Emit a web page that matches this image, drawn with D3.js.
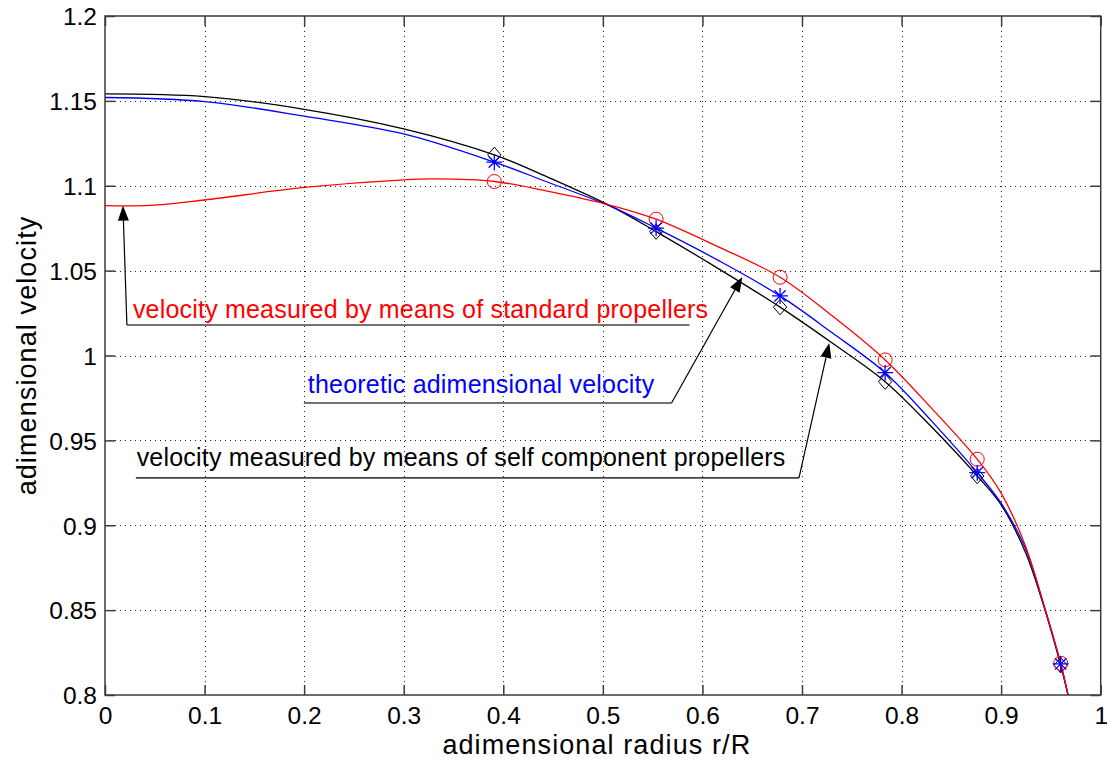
<!DOCTYPE html>
<html>
<head>
<meta charset="utf-8">
<script src="https://cdn.jsdelivr.net/npm/d3@7"></script>
<style>
  body { margin: 0; background: #fff; }
  svg { display: block; font-family: "Liberation Sans", Arial, sans-serif; }
</style>
</head>
<body>
<div id="ch"></div>
<script>
// adimensional velocity vs adimensional radius

const xTicks = [0, 0.1, 0.2, 0.3, 0.4, 0.5, 0.6, 0.7, 0.8, 0.9, 1];
const yTicks = [0.8, 0.85, 0.9, 0.95, 1, 1.05, 1.1, 1.15, 1.2];
const xTickLabels = ["0", "0.1", "0.2", "0.3", "0.4", "0.5", "0.6", "0.7", "0.8", "0.9", "1"];
const yTickLabels = ["0.8", "0.85", "0.9", "0.95", "1", "1.05", "1.1", "1.15", "1.2"];

/* curve samples (black + blue share radii) */
const lineR = [0, 0.1, 0.2, 0.3, 0.391, 0.443, 0.508, 0.5535, 0.616, 0.678, 0.73, 0.7835, 0.83, 0.876, 0.9, 0.9247, 0.9414, 0.9598, 0.968];
const blackVel = [1.1541, 1.1525, 1.145, 1.1335, 1.1182, 1.1055, 1.088, 1.073, 1.0512, 1.0285, 1.0075, 0.9846, 0.958, 0.929, 0.912, 0.8837, 0.855, 0.8175, 0.798];
const blueVel = [1.152, 1.1496, 1.141, 1.1305, 1.1139, 1.1025, 1.0878, 1.075, 1.056, 1.0351, 1.0135, 0.9899, 0.9615, 0.931, 0.913, 0.886, 0.856, 0.8183, 0.798];

const lineRedR = [0, 0.045, 0.1, 0.2, 0.3, 0.33, 0.391, 0.443, 0.508, 0.5535, 0.616, 0.678, 0.73, 0.7835, 0.83, 0.876, 0.9, 0.9247, 0.9414, 0.9598, 0.968];
const redVel = [1.0883, 1.0884, 1.0916, 1.099, 1.1035, 1.104, 1.1025, 1.097, 1.0885, 1.0803, 1.064, 1.0461, 1.0235, 0.9974, 0.969, 0.9389, 0.9189, 0.8874, 0.856, 0.8187, 0.798];

/* measured points */
const markR = [0.391, 0.5535, 0.678, 0.7835, 0.876, 0.9598];
const circleVel = [1.1025, 1.0803, 1.0461, 0.9974, 0.9389, 0.8187];
const starVel = [1.1139, 1.075, 1.0351, 0.9899, 0.931, 0.8183];
const diamondVel = [1.1182, 1.073, 1.0285, 0.9846, 0.929, 0.8175];

const width = 1107, height = 760;
const m = { left: 105, right: 6, top: 16, bottom: 65 };

const svg = d3.select("#ch").append("svg")
  .attr("width", width)
  .attr("height", height);

const x = d3.scaleLinear().domain([0, 1]).range([m.left, width - m.right - 0.3]);
const y = d3.scaleLinear().domain([0.8, 1.2]).range([height - m.bottom, m.top]);

/* grid */
const grid = svg.append("g")
  .attr("stroke", "#222")
  .attr("stroke-width", 1)
  .attr("stroke-dasharray", "1,4");
grid.selectAll("xg").data(xTicks.slice(1, -1)).enter().append("line")
  .attr("x1", d => Math.round(x(d)) + 0.5).attr("x2", d => Math.round(x(d)) + 0.5)
  .attr("y1", y(1.2)).attr("y2", y(0.8));
grid.selectAll("yg").data(yTicks.slice(1, -1)).enter().append("line")
  .attr("y1", d => Math.round(y(d)) + 0.5).attr("y2", d => Math.round(y(d)) + 0.5)
  .attr("x1", x(0)).attr("x2", x(1));

/* lines */
svg.append("clipPath").attr("id", "clip").append("rect")
  .attr("x", x(0)).attr("y", y(1.2))
  .attr("width", x(1) - x(0)).attr("height", y(0.8) - y(1.2));

const plot = svg.append("g").attr("clip-path", "url(#clip)");

const line = d3.line()
  .x(d => x(d[0]))
  .y(d => y(d[1]))
  .curve(d3.curveCatmullRom.alpha(0.5));

plot.append("path")
  .datum(lineR.map((r, i) => [r, blackVel[i]]))
  .attr("d", line).attr("fill", "none")
  .attr("stroke", "#000").attr("stroke-width", 1.3);

plot.append("path")
  .datum(lineR.map((r, i) => [r, blueVel[i]]))
  .attr("d", line).attr("fill", "none")
  .attr("stroke", "#0000ff").attr("stroke-width", 1.3);

plot.append("path")
  .datum(lineRedR.map((r, i) => [r, redVel[i]]))
  .attr("d", line).attr("fill", "none")
  .attr("stroke", "#ff0000").attr("stroke-width", 1.3);

/* markers */
const star = {
  draw(ctx, size) {
    const r = Math.sqrt(size) / 2;
    const k = r * Math.SQRT1_2;
    ctx.moveTo(-r, 0); ctx.lineTo(r, 0);
    ctx.moveTo(0, -r); ctx.lineTo(0, r);
    ctx.moveTo(-k, -k); ctx.lineTo(k, k);
    ctx.moveTo(-k, k); ctx.lineTo(k, -k);
  }
};
const diamond = {
  draw(ctx, size) {
    const r = Math.sqrt(size) / 2;
    ctx.moveTo(0, -r * 1.1);
    ctx.lineTo(r * 0.95, 0);
    ctx.lineTo(0, r * 1.1);
    ctx.lineTo(-r * 0.95, 0);
    ctx.closePath();
  }
};

plot.selectAll("dia").data(markR).enter().append("path")
  .attr("transform", (d, i) => `translate(${x(d)},${y(diamondVel[i])})`)
  .attr("d", d3.symbol(diamond, 196))
  .attr("fill", "none").attr("stroke", "#000").attr("stroke-width", 1);

plot.selectAll("circ").data(markR).enter().append("circle")
  .attr("cx", d => x(d))
  .attr("cy", (d, i) => y(circleVel[i]))
  .attr("r", 7)
  .attr("fill", "none").attr("stroke", "#ff0000").attr("stroke-width", 1);

plot.selectAll("star").data(markR).enter().append("path")
  .attr("transform", (d, i) => `translate(${x(d)},${y(starVel[i])})`)
  .attr("d", d3.symbol(star, 256))
  .attr("fill", "none").attr("stroke", "#0000ff").attr("stroke-width", 1.3);

/* axes box with inner ticks */
const axisColor = "#3c3c3c";
const fmtY = (d, i) => yTickLabels[i];
const fmtX = (d, i) => xTickLabels[i];

const ax = (g) => {
  g.select(".domain").remove();
  g.selectAll(".tick line").attr("stroke", axisColor).attr("stroke-width", 1.5);
  g.selectAll("text").attr("fill", "#000").style("font-size", "24.5px");
};

svg.append("g")
  .attr("transform", `translate(${x(0)},0)`)
  .call(d3.axisLeft(y).tickValues(yTicks).tickFormat(fmtY).tickSizeInner(-10).tickPadding(8))
  .call(ax)
  .selectAll("text").attr("dy", "0.36em");

svg.append("g")
  .attr("transform", `translate(${x(1)},0)`)
  .call(d3.axisRight(y).tickValues(yTicks).tickFormat("").tickSizeInner(-10))
  .call(ax);

svg.append("g")
  .attr("transform", `translate(0,${y(0.8)})`)
  .call(d3.axisBottom(x).tickValues(xTicks).tickFormat(fmtX).tickSizeInner(-10).tickPadding(12))
  .call(ax);

svg.append("g")
  .attr("transform", `translate(0,${y(1.2)})`)
  .call(d3.axisTop(x).tickValues(xTicks).tickFormat("").tickSizeInner(-10))
  .call(ax);

svg.append("rect")
  .attr("x", x(0)).attr("y", y(1.2))
  .attr("width", x(1) - x(0)).attr("height", y(0.8) - y(1.2))
  .attr("fill", "none").attr("stroke", axisColor).attr("stroke-width", 1.5);

/* axis titles */
svg.append("text")
  .attr("x", (x(0) + x(1)) / 2 - 6)
  .attr("y", 754)
  .attr("text-anchor", "middle")
  .style("font-size", "27px")
  .style("letter-spacing", "1.1px")
  .text("adimensional radius r/R");

svg.append("text")
  .attr("transform", `translate(36,${(y(0.8) + y(1.2)) / 2}) rotate(-90)`)
  .attr("text-anchor", "middle")
  .style("font-size", "27px")
  .style("letter-spacing", "1.1px")
  .text("adimensional velocity");

/* annotations: text start, underline, elbow and arrow tip in data units */
const notes = [
  { text: "velocity measured by means of standard propellers", color: "#ff0000",
    tx: 0.028, tv: 1.0222, u0: 0.022, u1: 0.587, uv: 1.018, elbow: [0.022, 1.018], tip: [0.018, 1.0883] },
  { text: "theoretic adimensional velocity", color: "#0000ff",
    tx: 0.2037, tv: 0.978, u0: 0.1997, u1: 0.569, uv: 0.972, elbow: [0.569, 0.972], tip: [0.640, 1.0463] },
  { text: "velocity measured by means of self component propellers", color: "#000",
    tx: 0.0318, tv: 0.935, u0: 0.031, u1: 0.697, uv: 0.9279, elbow: [0.697, 0.9279], tip: [0.7274, 1.0074] }
];

const ann = svg.append("g");
notes.forEach(n => {
  ann.append("line")
    .attr("x1", x(n.u0)).attr("x2", x(n.u1))
    .attr("y1", y(n.uv)).attr("y2", y(n.uv))
    .attr("stroke", "#444").attr("stroke-width", 1.6);

  const ex = x(n.elbow[0]), ey = y(n.elbow[1]);
  const tx = x(n.tip[0]), ty = y(n.tip[1]);
  const ang = Math.atan2(ty - ey, tx - ex);
  const len = 15, hw = 5.5;
  const bx = tx - len * Math.cos(ang), by = ty - len * Math.sin(ang);
  ann.append("line")
    .attr("x1", ex).attr("y1", ey).attr("x2", bx).attr("y2", by)
    .attr("stroke", "#000").attr("stroke-width", 1.2);
  ann.append("path")
    .attr("d", d3.line()([
      [tx, ty],
      [bx + hw * Math.sin(ang), by - hw * Math.cos(ang)],
      [bx - hw * Math.sin(ang), by + hw * Math.cos(ang)]
    ]) + "Z")
    .attr("fill", "#000");

  ann.append("text")
    .attr("x", x(n.tx)).attr("y", y(n.tv))
    .attr("fill", n.color)
    .style("font-size", "25px")
    .style("letter-spacing", "0.2px")
    .text(n.text);
});
</script>
</body>
</html>
